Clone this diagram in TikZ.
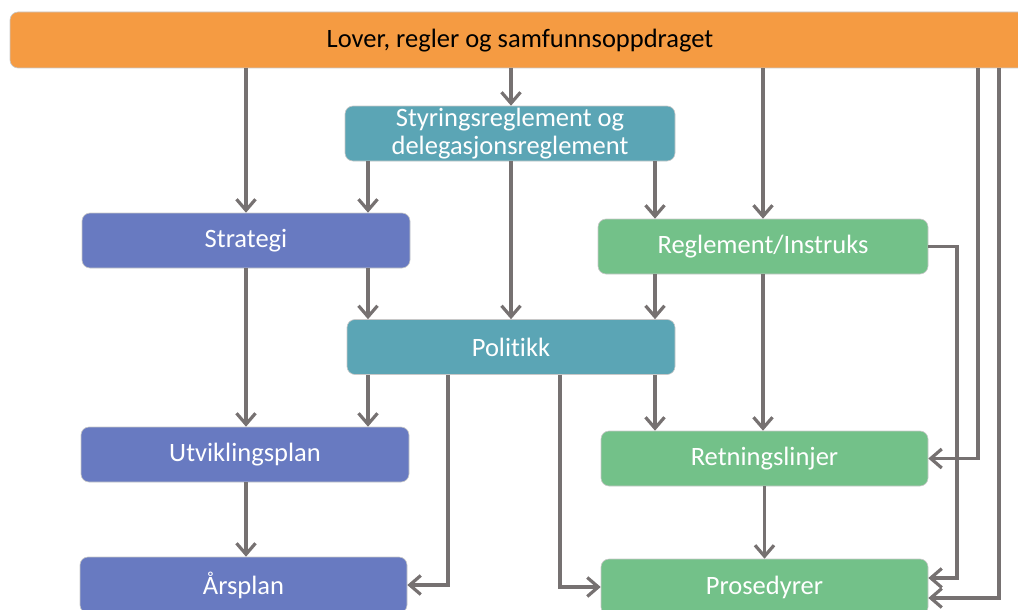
\documentclass[tikz,border=0pt]{standalone}
\usepackage{fontspec}
\setmainfont{Carlito}[Ligatures=NoCommon]
\usetikzlibrary{arrows.meta}

\definecolor{lovorange}{RGB}{245,155,66}
\definecolor{styrteal}{RGB}{91,165,181}
\definecolor{planblue}{RGB}{104,122,193}
\definecolor{reglgreen}{RGB}{115,193,137}
\definecolor{pilgrey}{RGB}{118,113,113}

\tikzset{
  boks/.style={draw={rgb,255:red,200;green,200;blue,200}, line width=0.6, rounded corners=8,
    minimum height=55, text=white, font=\fontsize{26.5}{29}\selectfont, align=center, inner sep=0},
  pil/.style={draw=pilgrey, line width=3.2, -{Straight Barb[length=11,width=19]}}
}

\begin{document}
\begin{tikzpicture}[x=1pt,y=1pt,yscale=-1,xscale=1]
\useasboundingbox (0,0) rectangle (1018,610);

%Shape: Rectangles
\node[boks, fill=lovorange, minimum width=1020, minimum height=56] (lov) at (520,40) {};
\node[font=\fontsize{26.5}{29}\selectfont] (lovtekst) at (520,41) {Lover, regler og samfunnsoppdraget};
\node[boks, fill=styrteal, minimum width=330] (styr) at (510,133.5) {Styringsreglement og\\[-1pt]delegasjonsreglement};
\node[boks, fill=planblue, minimum width=328] (strat) at (246,240.5) {Strategi};
\node[boks, fill=reglgreen, minimum width=330] (regl) at (763,246.5) {Reglement/Instruks};
\node[boks, fill=styrteal, minimum width=328] (pol) at (511,347) {Politikk};
\node[boks, fill=planblue, minimum width=328] (utv) at (245,454.5) {Utviklingsplan};
\node[boks, fill=reglgreen, minimum width=327] (retn) at (764.5,458.5) {Retningslinjer};
\node[boks, fill=planblue, minimum width=327, minimum height=56] (ars) at (243.5,585) {Årsplan};
\node[boks, fill=reglgreen, minimum width=327, minimum height=56] (pros) at (764.5,587) {Prosedyrer};

%Lanes
\coordinate (l0) at (246,0);
\coordinate (l1) at (368,0);
\coordinate (l2) at (448,0);
\coordinate (l3) at (511,0);
\coordinate (l4) at (560,0);
\coordinate (l5) at (655,0);
\coordinate (l6) at (763,0);
\coordinate (l7) at (957,0);
\coordinate (l8) at (978,0);
\coordinate (l9) at (999,0);

%Straight Lines
\draw[pil] (lov.south -| l0) -- (strat.north -| l0);
\draw[pil] (lov.south -| l3) -- (styr.north -| l3);
\draw[pil] (lov.south -| l6) -- (regl.north -| l6);
\draw[pil] (lov.south -| l8) -- (retn.east -| l8) -- (retn.east);
\draw[pil] (lov.south -| l9) -- ([yshift=11]pros.east -| l9) -- ([yshift=11]pros.east);
\draw[pil] (styr.south -| l1) -- (strat.north -| l1);
\draw[pil] (styr.south -| l3) -- (pol.north -| l3);
\draw[pil] (styr.south -| l5) -- (regl.north -| l5);
\draw[pil] (strat.south -| l0) -- (utv.north -| l0);
\draw[pil] (strat.south -| l1) -- (pol.north -| l1);
\draw[pil] (regl.south -| l5) -- (pol.north -| l5);
\draw[pil] (regl.south -| l6) -- (retn.north -| l6);
\draw[pil] (regl.east) -- (regl.east -| l7) -- ([yshift=-9]pros.east -| l7) -- ([yshift=-9]pros.east);
\draw[pil] (pol.south -| l1) -- (utv.north -| l1);
\draw[pil] (pol.south -| l2) -- (ars.east -| l2) -- (ars.east);
\draw[pil] (pol.south -| l4) -- (pros.west -| l4) -- (pros.west);
\draw[pil] (pol.south -| l5) -- (retn.north -| l5);
\draw[pil] (utv.south -| l0) -- (ars.north -| l0);
\draw[pil] (retn) -- (pros);
\end{tikzpicture}
\end{document}
